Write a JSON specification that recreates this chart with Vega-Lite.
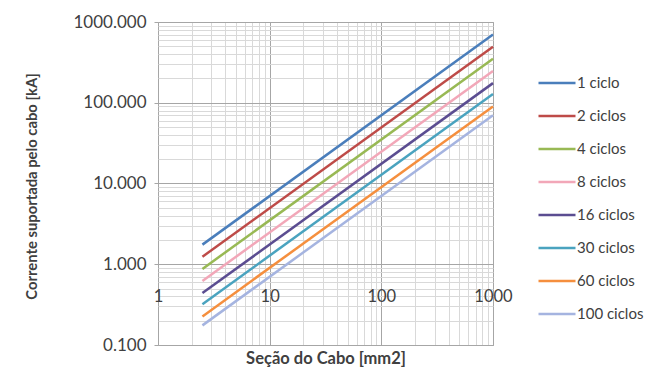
{
  "$schema": "https://vega.github.io/schema/vega-lite/v6.json",
  "width": 335,
  "height": 323,
  "autosize": {"type": "none"},
  "padding": {"left": 158, "top": 22, "right": 154, "bottom": 35},
  "background": "white",
  "config": {
    "font": "Lato",
    "view": {"stroke": "#a6a6a6", "strokeWidth": 1}
  },
  "data": {
    "values": [
      {"secao": 2.5, "corrente": 1.75, "serie": "1 ciclo"},
      {"secao": 1000, "corrente": 700, "serie": "1 ciclo"},
      {"secao": 2.5, "corrente": 1.24, "serie": "2 ciclos"},
      {"secao": 1000, "corrente": 495, "serie": "2 ciclos"},
      {"secao": 2.5, "corrente": 0.875, "serie": "4 ciclos"},
      {"secao": 1000, "corrente": 350, "serie": "4 ciclos"},
      {"secao": 2.5, "corrente": 0.62, "serie": "8 ciclos"},
      {"secao": 1000, "corrente": 247, "serie": "8 ciclos"},
      {"secao": 2.5, "corrente": 0.44, "serie": "16 ciclos"},
      {"secao": 1000, "corrente": 175, "serie": "16 ciclos"},
      {"secao": 2.5, "corrente": 0.32, "serie": "30 ciclos"},
      {"secao": 1000, "corrente": 128, "serie": "30 ciclos"},
      {"secao": 2.5, "corrente": 0.226, "serie": "60 ciclos"},
      {"secao": 1000, "corrente": 90, "serie": "60 ciclos"},
      {"secao": 2.5, "corrente": 0.175, "serie": "100 ciclos"},
      {"secao": 1000, "corrente": 70, "serie": "100 ciclos"}
    ]
  },
  "mark": {"type": "line", "strokeWidth": 2.5},
  "encoding": {
    "x": {
      "field": "secao",
      "type": "quantitative",
      "scale": {"type": "log", "domain": [1, 1000]},
      "axis": {
        "title": "Seção do Cabo [mm2]",
        "titleFont": "Lato",
        "titleFontSize": 16.5,
        "titleFontWeight": "bold",
        "titleColor": "#404040",
        "titleBaseline": "middle",
        "titleY": 95,
        "values": [1, 2, 3, 4, 5, 6, 7, 8, 9, 10, 20, 30, 40, 50, 60, 70, 80, 90, 100, 200, 300, 400, 500, 600, 700, 800, 900, 1000],
        "labelExpr": "abs(log(datum.value)/LN10 - round(log(datum.value)/LN10)) < 0.001 ? format(datum.value, 'd') : ''",
        "labelOverlap": false,
        "labelBound": false,
        "labelFlush": false,
        "labelFontSize": 16.5,
        "labelColor": "#404040",
        "labelPadding": 25,
        "offset": -82,
        "domain": false,
        "ticks": false,
        "grid": true,
        "gridColor": {"condition": {"test": "abs(log(datum.value)/LN10 - round(log(datum.value)/LN10)) < 0.001", "value": "#a6a6a6"}, "value": "#d9d9d9"},
        "gridWidth": 1
      }
    },
    "y": {
      "field": "corrente",
      "type": "quantitative",
      "scale": {"type": "log", "domain": [0.1, 1000]},
      "axis": {
        "title": "Corrente suportada pelo cabo [kA]",
        "titleFont": "Lato",
        "titleFontSize": 14.8,
        "titleFontWeight": "bold",
        "titleColor": "#404040",
        "titleX": -126,
        "titleY": 164,
        "titleAlign": "center",
        "titleAnchor": null,
        "titleBaseline": "middle",
        "values": [0.1, 0.2, 0.3, 0.4, 0.5, 0.6, 0.7, 0.8, 0.9, 1, 2, 3, 4, 5, 6, 7, 8, 9, 10, 20, 30, 40, 50, 60, 70, 80, 90, 100, 200, 300, 400, 500, 600, 700, 800, 900, 1000],
        "labelExpr": "abs(log(datum.value)/LN10 - round(log(datum.value)/LN10)) < 0.001 ? format(datum.value, '.3f') : ''",
        "labelOverlap": false,
        "labelBound": false,
        "labelFlush": false,
        "labelFontSize": 17,
        "labelColor": "#404040",
        "labelPadding": 8,
        "domain": false,
        "tickSize": 4,
        "tickColor": "#a6a6a6",
        "tickOpacity": {"condition": {"test": "abs(log(datum.value)/LN10 - round(log(datum.value)/LN10)) < 0.001", "value": 1}, "value": 0},
        "grid": true,
        "gridColor": {"condition": {"test": "abs(log(datum.value)/LN10 - round(log(datum.value)/LN10)) < 0.001", "value": "#a6a6a6"}, "value": "#d9d9d9"},
        "gridWidth": 1
      }
    },
    "color": {
      "field": "serie",
      "type": "nominal",
      "sort": ["1 ciclo", "2 ciclos", "4 ciclos", "8 ciclos", "16 ciclos", "30 ciclos", "60 ciclos", "100 ciclos"],
      "scale": {
        "domain": ["1 ciclo", "2 ciclos", "4 ciclos", "8 ciclos", "16 ciclos", "30 ciclos", "60 ciclos", "100 ciclos"],
        "range": ["#4a7ebb", "#be4b48", "#98b954", "#f2a7b8", "#5b4d91", "#4aa3bf", "#f58f3e", "#a5b4e0"]
      },
      "legend": {
        "title": null,
        "orient": "none",
        "legendX": 379,
        "legendY": 41,
        "padding": 0,
        "symbolType": "stroke",
        "symbolSize": 1369,
        "symbolStrokeWidth": 2.5,
        "labelFontSize": 15,
        "labelColor": "#404040",
        "labelOffset": 0,
        "rowPadding": 5
      }
    }
  }
}
